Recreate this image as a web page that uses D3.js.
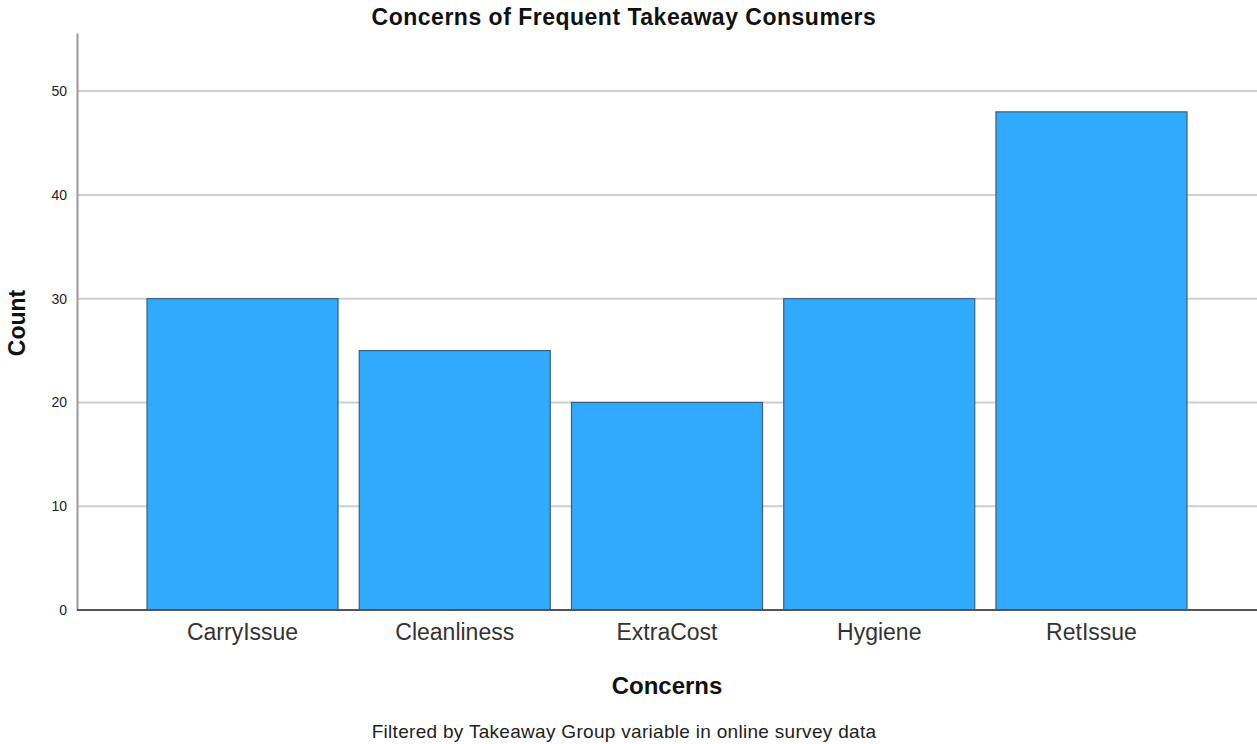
<!DOCTYPE html>
<html>
<head>
<meta charset="utf-8">
<script src="https://cdn.jsdelivr.net/npm/d3@7"></script>
<style>
  body { margin: 0; background: #fff; }
  text { font-family: "Liberation Sans", Arial, sans-serif; }
</style>
</head>
<body>
<svg id="drawing_region"></svg>
<script>
// data
const categories = ["CarryIssue", "Cleanliness", "ExtraCost", "Hygiene", "RetIssue"];
const counts = [30, 25, 20, 30, 48];
const yTicks = [0, 10, 20, 30, 40, 50];

const width = 1257;
const height = 744;
const margin = { top: 33, right: 0, bottom: 134, left: 77 };

const svg = d3.select('#drawing_region')
    .attr('width', width)
    .attr('height', height);

const x = d3.scaleBand()
    .domain(categories)
    .range([136.4, 1197.6])
    .paddingInner(0.1)
    .paddingOuter(0.05);

const y = d3.scaleLinear()
    .domain([0, 55.6])
    .range([height - margin.bottom, margin.top]);

// grid lines
svg.append('g')
    .selectAll('line')
    .data(yTicks.filter(d => d > 0))
    .enter()
    .append('line')
    .attr('x1', margin.left)
    .attr('x2', width)
    .attr('y1', d => y(d))
    .attr('y2', d => y(d))
    .attr('stroke', '#cfcfcf')
    .attr('stroke-width', 2);

// bars
svg.append('g')
    .selectAll('rect')
    .data(counts)
    .enter()
    .append('rect')
    .attr('x', (d, i) => x(categories[i]))
    .attr('y', d => y(d))
    .attr('width', x.bandwidth())
    .attr('height', d => y(0) - y(d))
    .attr('fill', '#30aafc')
    .attr('stroke', '#3d5f7c')
    .attr('stroke-width', 1.2);

// y axis
const yAxis = svg.append('g')
    .attr('transform', `translate(${margin.left},0)`)
    .call(d3.axisLeft(y).tickValues(yTicks).tickSize(0).tickPadding(10));
yAxis.select('.domain').attr('stroke', '#999').attr('stroke-width', 2);
yAxis.selectAll('text').style('font-size', '14px').attr('fill', '#222');

// baseline
svg.append('line')
    .attr('x1', margin.left)
    .attr('x2', width)
    .attr('y1', y(0))
    .attr('y2', y(0))
    .attr('stroke', '#555')
    .attr('stroke-width', 2);

// x axis labels
const xAxis = svg.append('g')
    .attr('transform', `translate(0,${y(0)})`)
    .call(d3.axisBottom(x).tickSize(0).tickPadding(14));
xAxis.select('.domain').remove();
xAxis.selectAll('text').style('font-size', '23px').attr('fill', '#333');

// title
svg.append('text')
    .attr('x', 624)
    .attr('y', 25)
    .attr('text-anchor', 'middle')
    .style('font-size', '23px')
    .style('font-weight', 'bold')
    .style('letter-spacing', '0.5px')
    .attr('fill', '#111')
    .text('Concerns of Frequent Takeaway Consumers');

// axis titles
svg.append('text')
    .attr('x', 667)
    .attr('y', 694)
    .attr('text-anchor', 'middle')
    .style('font-size', '24px')
    .style('font-weight', 'bold')
    .attr('fill', '#111')
    .text('Concerns');

svg.append('text')
    .attr('transform', 'translate(25,323) rotate(-90)')
    .attr('text-anchor', 'middle')
    .style('font-size', '23px')
    .style('font-weight', 'bold')
    .attr('fill', '#111')
    .text('Count');

// footnote
svg.append('text')
    .attr('x', 624)
    .attr('y', 738)
    .attr('text-anchor', 'middle')
    .style('font-size', '19px')
    .style('letter-spacing', '0.3px')
    .attr('fill', '#222')
    .text('Filtered by Takeaway Group variable in online survey data');
</script>
</body>
</html>
